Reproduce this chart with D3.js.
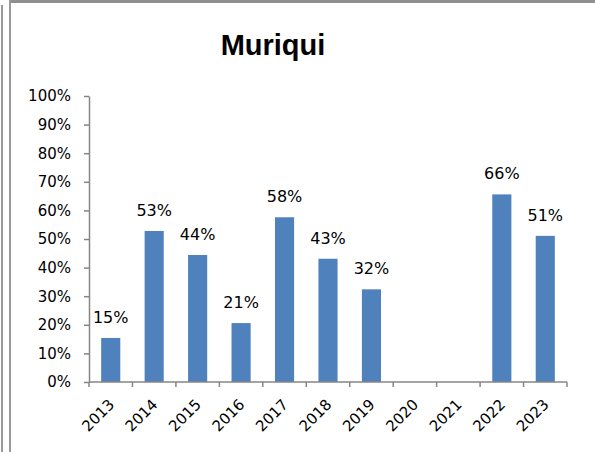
<!DOCTYPE html>
<html>
<head>
<meta charset="utf-8">
<script src="https://cdn.jsdelivr.net/npm/d3@7"></script>
<style>
	body { margin: 0; background: #fff; }
	svg { display: block; }
</style>
</head>
<body>
<div id="chart"></div>
<script>
const years = [ '2013', '2014', '2015', '2016', '2017', '2018', '2019', '2020', '2021', '2022', '2023' ];
const shares = [ 0.154, 0.528, 0.444, 0.206, 0.576, 0.431, 0.324, null, null, 0.656, 0.511 ];
const yTicks = [ 0, 0.1, 0.2, 0.3, 0.4, 0.5, 0.6, 0.7, 0.8, 0.9, 1 ];

const width = 595,
	height = 452;
const plot = { left: 89, right: 567, top: 96, bottom: 382 };

const svg = d3.select('#chart').append('svg').attr('width', width).attr('height', height);

// window frame lines
svg.append('rect').attr('x', 10).attr('y', 0).attr('width', width - 10).attr('height', 3).attr('fill', '#8f8f8f');
svg.append('rect').attr('x', 1).attr('y', 5).attr('width', 2).attr('height', height).attr('fill', '#9a9a9a');
svg.append('rect').attr('x', 9).attr('y', 0).attr('width', 2).attr('height', height).attr('fill', '#9a9a9a');

svg
	.append('text')
	.attr('x', 273)
	.attr('y', 55)
	.attr('text-anchor', 'middle')
	.attr('font-family', 'Liberation Sans, Arial, sans-serif')
	.attr('font-weight', 'bold')
	.attr('font-size', 29)
	.text('Muriqui');

const x = d3.scaleBand().domain(years).range([ plot.left, plot.right ]).paddingInner(0.56).paddingOuter(0.28);
const y = d3.scaleLinear().domain([ 0, 1 ]).range([ plot.bottom, plot.top ]);

// y axis
const yAxis = svg
	.append('g')
	.attr('transform', `translate(${plot.left},0)`)
	.call(d3.axisLeft(y).tickValues(yTicks).tickSize(5).tickSizeOuter(0).tickFormat(d3.format('.0%')));
yAxis.select('.domain').attr('stroke', '#868686').attr('stroke-width', 1.5);
yAxis.selectAll('.tick line').attr('stroke', '#868686').attr('stroke-width', 1.5);
yAxis
	.selectAll('.tick text')
	.attr('x', -18)
	.attr('font-family', 'DejaVu Sans, sans-serif')
	.attr('font-size', 15)
	.attr('fill', '#000');

// bars
const data = years.map((d, i) => ({ year: d, value: shares[i] })).filter((d) => d.value !== null);

svg
	.selectAll('rect.bar')
	.data(data)
	.enter()
	.append('rect')
	.attr('class', 'bar')
	.attr('x', (d) => x(d.year))
	.attr('width', x.bandwidth())
	.attr('y', (d) => y(d.value))
	.attr('height', (d) => y(0) - y(d.value))
	.attr('fill', '#4f81bd');

svg
	.selectAll('text.val')
	.data(data)
	.enter()
	.append('text')
	.attr('class', 'val')
	.attr('x', (d) => x(d.year) + x.bandwidth() / 2)
	.attr('y', (d) => y(d.value) - 15)
	.attr('text-anchor', 'middle')
	.attr('font-family', 'DejaVu Sans, sans-serif')
	.attr('font-size', 16)
	.text((d) => d3.format('.0%')(d.value));

// x axis with ticks at category boundaries
const step = x.step();
const bounds = d3.range(years.length + 1).map((i) => plot.left + i * step);
const xAxis = svg.append('g');
xAxis
	.append('line')
	.attr('x1', plot.left)
	.attr('x2', plot.right)
	.attr('y1', plot.bottom)
	.attr('y2', plot.bottom)
	.attr('stroke', '#868686')
	.attr('stroke-width', 1.5);
xAxis
	.selectAll('line.tk')
	.data(bounds)
	.enter()
	.append('line')
	.attr('class', 'tk')
	.attr('x1', (d) => d)
	.attr('x2', (d) => d)
	.attr('y1', plot.bottom)
	.attr('y2', plot.bottom + 5)
	.attr('stroke', '#868686')
	.attr('stroke-width', 1.5);
xAxis
	.selectAll('text')
	.data(years)
	.enter()
	.append('text')
	.attr('transform', (d) => `translate(${x(d) + x.bandwidth() / 2 - 3},${plot.bottom + 16}) rotate(-45)`)
	.attr('text-anchor', 'end')
	.attr('dy', '0.7em')
	.attr('font-family', 'DejaVu Sans, sans-serif')
	.attr('font-size', 15)
	.text((d) => d);
</script>
</body>
</html>
